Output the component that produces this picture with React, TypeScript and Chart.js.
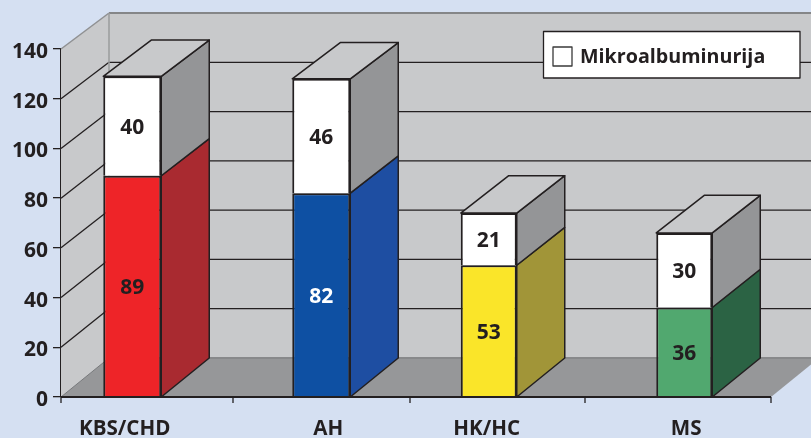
import React, { useEffect, useRef } from "react";
import { Chart, registerables } from "chart.js";

Chart.register(...registerables);

const categories = ["KBS/CHD", "AH", "HK/HC", "MS"];
const baseSeriesValues = [89, 82, 53, 36];
const microSeriesValues = [40, 46, 21, 30];
const microLabel = "Mikroalbuminurija";
const yTickMax = 140;

const FONT = '"Open Sans", sans-serif';
const BG = "#d5e0f2";
const INK = "#231f20";
const WALL = "#c8c9cb";
const FLOOR = "#969799";
const frontColors = ["#ee2428", "#0e50a3", "#fae529", "#51a86f"];
const sideColors = ["#a92a30", "#1e4ea2", "#a19538", "#2b6344"];
const labelColors = [INK, "#ffffff", INK, INK];
const WHITE_SIDE = "#949597";
const DEPTH_X = 48;
const barShifts = [-17.5, -6, -16, 2];
const barWidths = [58, 58, 56, 56];
const labelShifts = [-25, 1, -18, 4];
const tickPixels = [61, 233, 410, 585, 771];

function depthY(v: number) {
  return 39 - (3 * v) / yTickMax;
}

const poly = (ctx: CanvasRenderingContext2D, pts: number[][], fill: string, stroke?: string, lw = 1.5) => {
  ctx.beginPath();
  pts.forEach((p, i) => (i ? ctx.lineTo(p[0], p[1]) : ctx.moveTo(p[0], p[1])));
  ctx.closePath();
  ctx.fillStyle = fill;
  ctx.fill();
  if (stroke) {
    ctx.strokeStyle = stroke;
    ctx.lineWidth = lw;
    ctx.lineJoin = "round";
    ctx.stroke();
  }
};

const line = (ctx: CanvasRenderingContext2D, x1: number, y1: number, x2: number, y2: number, c: string, lw: number) => {
  ctx.beginPath();
  ctx.moveTo(x1, y1);
  ctx.lineTo(x2, y2);
  ctx.strokeStyle = c;
  ctx.lineWidth = lw;
  ctx.stroke();
};

const box3d = {
  id: "box3d",
  afterDatasetsUpdate(chart: any) {
    chart.data.datasets.forEach((_: any, d: number) => {
      chart.getDatasetMeta(d).data.forEach((el: any, i: number) => {
        el.x += barShifts[i];
        el.width = barWidths[i];
      });
    });
  },
  beforeDatasetsDraw(chart: any) {
    const { ctx, chartArea: a, scales } = chart;
    const y = scales.y;
    ctx.save();
    const L = a.left;
    const R = a.right;
    const yAt = (v: number) => y.getPixelForValue(v);
    const by = (v: number) => yAt(v) - depthY(v);
    // side wall, back wall, floor
    poly(ctx, [[L, yAt(yTickMax)], [L + DEPTH_X, by(yTickMax)], [L + DEPTH_X, by(0)], [L, yAt(0)]], WALL);
    poly(ctx, [[L + DEPTH_X, by(yTickMax)], [R + DEPTH_X, by(yTickMax)], [R + DEPTH_X, by(0)], [L + DEPTH_X, by(0)]], WALL);
    poly(ctx, [[L, yAt(0)], [R, yAt(0)], [R + DEPTH_X, by(0)], [L + DEPTH_X, by(0)]], FLOOR);
    line(ctx, L + DEPTH_X, by(0), R + DEPTH_X, by(0), "#88898b", 2);
    // grid
    for (let v = 20; v < yTickMax; v += 20) {
      line(ctx, L, yAt(v), L + DEPTH_X, by(v), INK, 1.3);
      line(ctx, L + DEPTH_X, by(v), R + DEPTH_X, by(v), INK, 1.3);
    }
    line(ctx, L, yAt(yTickMax), L + DEPTH_X, by(yTickMax), "#8f9092", 1.5);
    line(ctx, L + DEPTH_X, by(yTickMax), R + DEPTH_X, by(yTickMax), "#858688", 2);
    line(ctx, L + DEPTH_X, by(yTickMax), L + DEPTH_X, by(0), "#9a9b9d", 1.5);
    line(ctx, L, yAt(0), L + DEPTH_X, by(0), "#77787a", 1);
    // bar sides & tops
    const low = chart.getDatasetMeta(0).data;
    const up = chart.getDatasetMeta(1).data;
    low.forEach((el: any, i: number) => {
      const r = el.x + el.width / 2;
      const l = el.x - el.width / 2;
      const v0 = baseSeriesValues[i];
      const v1 = v0 + microSeriesValues[i];
      poly(ctx, [[r, yAt(0)], [r + DEPTH_X, by(0)], [r + DEPTH_X, by(v0)], [r, yAt(v0)]], sideColors[i], INK);
      poly(ctx, [[r, yAt(v0)], [r + DEPTH_X, by(v0)], [r + DEPTH_X, by(v1)], [r, up[i].y]], WHITE_SIDE, INK);
      poly(ctx, [[l, up[i].y], [l + DEPTH_X, by(v1)], [r + DEPTH_X, by(v1)], [r, up[i].y]], WALL, INK);
    });
    ctx.restore();
  },
  afterDatasetsDraw(chart: any) {
    const { ctx, scales } = chart;
    ctx.save();
    ctx.font = `bold 21px ${FONT}`;
    ctx.textAlign = "center";
    ctx.textBaseline = "middle";
    chart.data.datasets.forEach((ds: any, d: number) => {
      chart.getDatasetMeta(d).data.forEach((el: any, i: number) => {
        ctx.fillStyle = d === 0 ? labelColors[i] : INK;
        ctx.fillText(String(ds.data[i]), el.x, (el.y + el.base) / 2 + 2);
      });
    });
    // x axis: line, ticks, labels
    const x = scales.x;
    const bottom = chart.chartArea.bottom;
    line(ctx, chart.chartArea.left, bottom, chart.chartArea.right, bottom, INK, 2);
    tickPixels.forEach((px) => line(ctx, px, bottom, px, bottom + 6, INK, 1.3));
    ctx.font = `bold 20.6px ${FONT}`;
    ctx.fillStyle = INK;
    categories.forEach((c, i) => {
      ctx.fillText(c, x.getPixelForTick(i) + labelShifts[i], 429);
    });
    // legend
    poly(ctx, [[543.5, 31.5], [800, 31.5], [800, 78], [543.5, 78]], "#ffffff", INK, 1.3);
    poly(ctx, [[553, 47], [572, 47], [572, 66], [553, 66]], "#ffffff", "#3a3a3a", 1.3);
    ctx.font = `bold 19.7px ${FONT}`;
    ctx.fillStyle = INK;
    ctx.textAlign = "left";
    ctx.fillText(chart.data.datasets[1].label, 580, 57);
    ctx.restore();
  },
};

export default function App() {
  const ref = useRef<HTMLCanvasElement>(null);
  useEffect(() => {
    const chart = new Chart(ref.current!, {
      type: "bar",
      data: {
        labels: categories,
        datasets: [
          {
            label: "Osnovno",
            data: baseSeriesValues,
            backgroundColor: frontColors,
            borderColor: INK,
            borderWidth: 2,
          },
          {
            label: microLabel,
            data: microSeriesValues,
            backgroundColor: "#ffffff",
            borderColor: INK,
            borderWidth: 2,
          },
        ],
      },
      options: {
        animation: false,
        responsive: false,
        layout: { padding: { top: 49, right: 40, left: 0, bottom: 0 } },
        plugins: { legend: { display: false }, tooltip: { enabled: false }, title: { display: false } },
        scales: {
          x: {
            stacked: true,
            grid: { display: false },
            border: { display: false },
            ticks: { display: false },
            afterFit: (s: any) => {
              s.height = 41;
            },
          },
          y: {
            stacked: true,
            min: 0,
            max: yTickMax,
            ticks: {
              stepSize: 20,
              color: INK,
              font: { family: FONT, weight: "bold", size: 21 },
              padding: 5,
              labelOffset: 3,
            },
            grid: { drawOnChartArea: false, color: INK, tickLength: 8, lineWidth: 1.3 },
            border: { display: true, color: INK, width: 2 },
            afterFit: (s: any) => {
              s.width = 61;
            },
          },
        },
      },
      plugins: [box3d],
    } as any);
    return () => chart.destroy();
  }, []);
  return (
    <div style={{ position: "absolute", left: 0, top: 0, width: 811, height: 438, overflow: "hidden", background: BG }}>
      <canvas ref={ref} width={811} height={438} style={{ display: "block" }} />
    </div>
  );
}
